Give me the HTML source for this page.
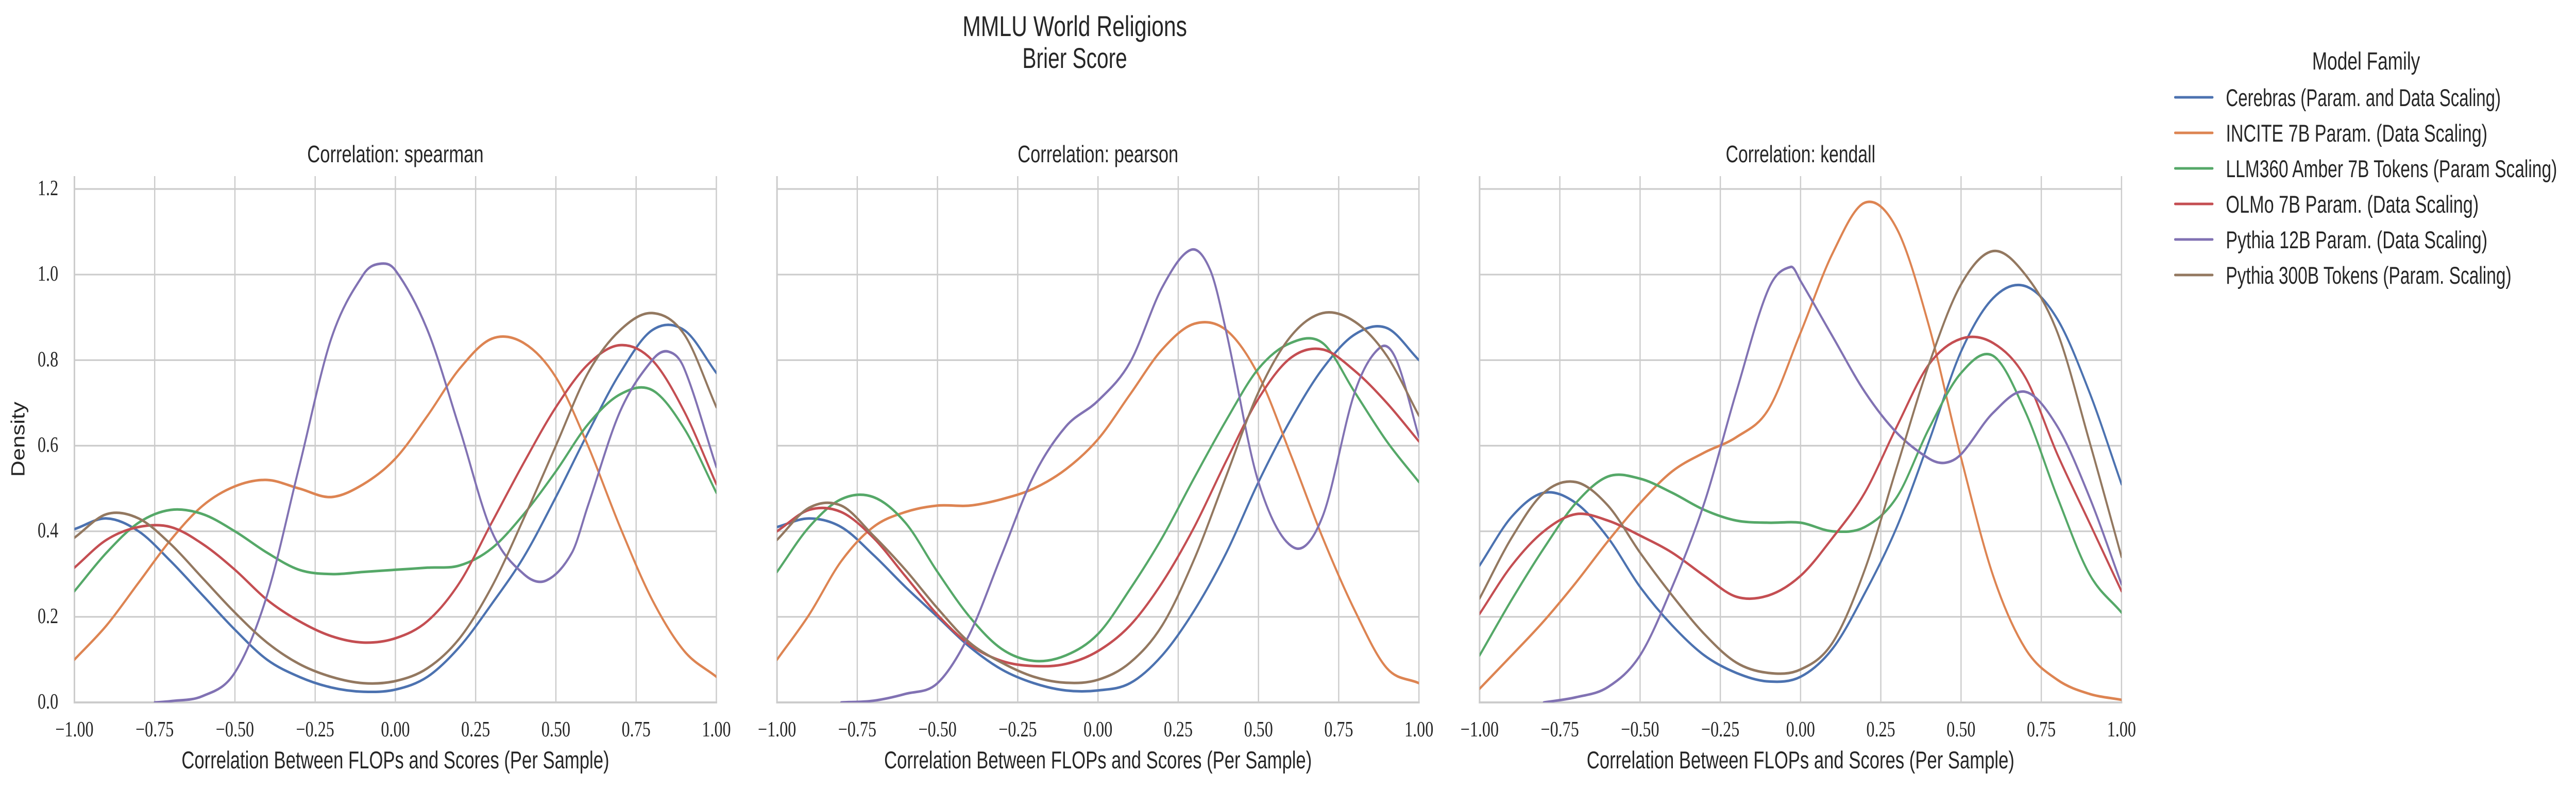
<!DOCTYPE html>
<html><head><meta charset="utf-8"><style>
html,body{margin:0;padding:0;background:#fff;width:100%;height:100%;overflow:hidden;}
svg{display:block;overflow:hidden;width:100vw;height:100vh;}
.t{font-family:"Liberation Sans Narrow","Liberation Sans",sans-serif;fill:#262626;}
.s{font-family:"Liberation Serif",serif;fill:#262626;}
</style></head><body>
<svg id="fig" xmlns="http://www.w3.org/2000/svg" viewBox="0 0 6541 1536" preserveAspectRatio="none">
<text class="t" x="2729" y="70" font-size="56" text-anchor="middle" textLength="570" lengthAdjust="spacingAndGlyphs">MMLU World Religions</text>
<text class="t" x="2729" y="132" font-size="56" text-anchor="middle" textLength="266" lengthAdjust="spacingAndGlyphs">Brier Score</text>
<text class="t" x="0" y="0" font-size="48" text-anchor="middle" textLength="146" lengthAdjust="spacingAndGlyphs" transform="translate(62,853) rotate(-90)">Density</text>
<g id="panels"></g>
<g id="legend">
<text class="t" x="6008" y="135" font-size="48" text-anchor="middle" textLength="274" lengthAdjust="spacingAndGlyphs">Model Family</text>
</g>
</svg>
<script>
// ---- data ----
const panelTitles = ["Correlation: spearman", "Correlation: pearson", "Correlation: kendall"];
const seriesNames = ["Cerebras (Param. and Data Scaling)", "INCITE 7B Param. (Data Scaling)", "LLM360 Amber 7B Tokens (Param Scaling)", "OLMo 7B Param. (Data Scaling)", "Pythia 12B Param. (Data Scaling)", "Pythia 300B Tokens (Param. Scaling)"];
const seriesColors = ["#4c72b0", "#dd8452", "#55a868", "#c44e52", "#8172b3", "#937860"];
const xTicks = [-1, -0.75, -0.5, -0.25, 0, 0.25, 0.5, 0.75, 1];
const xTickLabels = ["\u22121.00", "\u22120.75", "\u22120.50", "\u22120.25", "0.00", "0.25", "0.50", "0.75", "1.00"];
const yTicks = [0, 0.2, 0.4, 0.6, 0.8, 1.0, 1.2];
const yTickLabels = ["0.0", "0.2", "0.4", "0.6", "0.8", "1.0", "1.2"];

const gridX = [-1, -0.9, -0.8, -0.7, -0.6, -0.5, -0.4, -0.3, -0.2, -0.1, 0, 0.1, 0.2, 0.3, 0.4, 0.5, 0.6, 0.7, 0.8, 0.9, 1.0];

// spearman
const spBlue = [0.405, 0.43, 0.40, 0.33, 0.25, 0.17, 0.10, 0.06, 0.035, 0.025, 0.03, 0.06, 0.13, 0.23, 0.34, 0.48, 0.63, 0.77, 0.87, 0.87, 0.77];
const spOrange = [0.10, 0.18, 0.28, 0.38, 0.46, 0.505, 0.52, 0.50, 0.48, 0.51, 0.57, 0.67, 0.78, 0.85, 0.84, 0.76, 0.60, 0.41, 0.24, 0.12, 0.06];
const spGreen = [0.26, 0.35, 0.42, 0.45, 0.44, 0.40, 0.35, 0.31, 0.30, 0.305, 0.31, 0.315, 0.32, 0.36, 0.44, 0.54, 0.65, 0.72, 0.73, 0.64, 0.49];
const spRed = [0.315, 0.38, 0.41, 0.41, 0.37, 0.31, 0.24, 0.19, 0.155, 0.14, 0.15, 0.19, 0.28, 0.42, 0.56, 0.69, 0.79, 0.835, 0.80, 0.68, 0.51];
const spBrown = [0.385, 0.44, 0.43, 0.37, 0.29, 0.21, 0.14, 0.09, 0.06, 0.045, 0.05, 0.08, 0.15, 0.27, 0.43, 0.60, 0.77, 0.87, 0.91, 0.86, 0.69];
const spPurpleX = [-0.75, -0.7, -0.6, -0.5, -0.4, -0.3, -0.2, -0.1, -0.05, 0, 0.1, 0.2, 0.3, 0.4, 0.47, 0.55, 0.6, 0.7, 0.8, 0.85, 0.9, 1.0];
const spPurple = [0, 0.003, 0.015, 0.07, 0.25, 0.55, 0.85, 1.0, 1.025, 1.01, 0.87, 0.64, 0.40, 0.30, 0.285, 0.35, 0.46, 0.68, 0.80, 0.82, 0.78, 0.55];

// pearson
const peBlue = [0.41, 0.43, 0.41, 0.345, 0.27, 0.20, 0.13, 0.077, 0.045, 0.028, 0.028, 0.045, 0.11, 0.215, 0.35, 0.515, 0.66, 0.78, 0.86, 0.875, 0.80];
const peOrange = [0.10, 0.205, 0.33, 0.41, 0.445, 0.46, 0.46, 0.475, 0.50, 0.545, 0.615, 0.72, 0.825, 0.885, 0.87, 0.765, 0.58, 0.385, 0.215, 0.08, 0.045];
const peGreen = [0.305, 0.41, 0.475, 0.48, 0.42, 0.305, 0.20, 0.125, 0.097, 0.11, 0.16, 0.265, 0.385, 0.525, 0.66, 0.78, 0.84, 0.84, 0.725, 0.61, 0.515];
const peRed = [0.40, 0.45, 0.445, 0.385, 0.295, 0.205, 0.135, 0.097, 0.085, 0.09, 0.12, 0.18, 0.28, 0.41, 0.565, 0.71, 0.805, 0.825, 0.775, 0.70, 0.61];
const peBrown = [0.38, 0.455, 0.46, 0.39, 0.31, 0.22, 0.14, 0.093, 0.06, 0.046, 0.053, 0.093, 0.18, 0.335, 0.53, 0.725, 0.855, 0.91, 0.89, 0.81, 0.67];
const pePurpleX = [-0.8, -0.7, -0.6, -0.5, -0.4, -0.3, -0.2, -0.1, 0, 0.1, 0.2, 0.29, 0.35, 0.4, 0.5, 0.61, 0.7, 0.8, 0.88, 0.93, 1.0];
const pePurple = [0, 0.004, 0.02, 0.045, 0.16, 0.345, 0.53, 0.645, 0.705, 0.795, 0.97, 1.058, 1.01, 0.865, 0.515, 0.362, 0.435, 0.725, 0.83, 0.8, 0.62];

// kendall
const keBlue = [0.32, 0.434, 0.49, 0.466, 0.385, 0.27, 0.18, 0.11, 0.069, 0.049, 0.06, 0.126, 0.255, 0.41, 0.61, 0.82, 0.945, 0.973, 0.896, 0.725, 0.51];
const keOrange = [0.032, 0.11, 0.19, 0.28, 0.377, 0.466, 0.54, 0.584, 0.62, 0.685, 0.864, 1.05, 1.168, 1.107, 0.88, 0.572, 0.296, 0.126, 0.053, 0.02, 0.006];
const keGreen = [0.11, 0.24, 0.36, 0.466, 0.528, 0.523, 0.49, 0.45, 0.425, 0.42, 0.42, 0.40, 0.41, 0.48, 0.64, 0.77, 0.81, 0.68, 0.48, 0.30, 0.21];
const keRed = [0.207, 0.32, 0.40, 0.44, 0.425, 0.39, 0.35, 0.296, 0.247, 0.25, 0.296, 0.385, 0.49, 0.645, 0.79, 0.85, 0.84, 0.76, 0.58, 0.42, 0.26];
const keBrown = [0.243, 0.385, 0.49, 0.515, 0.46, 0.35, 0.25, 0.16, 0.093, 0.069, 0.077, 0.14, 0.31, 0.55, 0.79, 0.977, 1.055, 1.0, 0.865, 0.61, 0.34];
const kePurpleX = [-0.8, -0.7, -0.6, -0.5, -0.4, -0.3, -0.2, -0.1, -0.03, 0, 0.1, 0.2, 0.3, 0.4, 0.45, 0.5, 0.6, 0.7, 0.8, 0.9, 1.0];
const kePurple = [0, 0.012, 0.036, 0.11, 0.27, 0.466, 0.726, 0.966, 1.018, 0.985, 0.855, 0.726, 0.63, 0.57, 0.56, 0.58, 0.677, 0.726, 0.645, 0.48, 0.276];

const panelSeries = [
  [[gridX, spBlue], [gridX, spOrange], [gridX, spGreen], [gridX, spRed], [spPurpleX, spPurple], [gridX, spBrown]],
  [[gridX, peBlue], [gridX, peOrange], [gridX, peGreen], [gridX, peRed], [pePurpleX, pePurple], [gridX, peBrown]],
  [[gridX, keBlue], [gridX, keOrange], [gridX, keGreen], [gridX, keRed], [kePurpleX, kePurple], [gridX, keBrown]]
];

// ---- layout ----
const NS = "http://www.w3.org/2000/svg";
const panelLefts = [189, 1973, 3757];
const panelW = 1630;
const yBottom = 1364, yTop = 342;
const pxPerUnit = (1364 - 367) / 1.2;
const titleWidths = [448, 408, 380];
const legendWidths = [698, 664, 841, 642, 664, 725];
function mk(tag, attrs, parent) {
  const e = document.createElementNS(NS, tag);
  for (const k in attrs) e.setAttribute(k, attrs[k]);
  parent.appendChild(e);
  return e;
}
function smoothPath(pts) {
  const n = pts.length;
  const m = pts.map((p, i) => {
    const a = pts[Math.max(0, i - 1)], b = pts[Math.min(n - 1, i + 1)];
    return (b[1] - a[1]) / (b[0] - a[0]);
  });
  let d = "M" + pts[0][0].toFixed(1) + "," + pts[0][1].toFixed(1);
  for (let i = 0; i < n - 1; i++) {
    const p1 = pts[i], p2 = pts[i + 1], h = p2[0] - p1[0];
    const c1 = [p1[0] + h / 3, p1[1] + m[i] * h / 3];
    const c2 = [p2[0] - h / 3, p2[1] - m[i + 1] * h / 3];
    d += "C" + c1[0].toFixed(1) + "," + c1[1].toFixed(1) + " " + c2[0].toFixed(1) + "," + c2[1].toFixed(1) + " " + p2[0].toFixed(1) + "," + p2[1].toFixed(1);
  }
  return d;
}
const root = document.getElementById("panels");
panelTitles.forEach((title, pi) => {
  const L = panelLefts[pi], R = L + panelW;
  const xs = v => L + (v + 1) / 2 * panelW;
  const ys = v => yBottom - v * pxPerUnit;
  const g = mk("g", {}, root);
  
  
  const cp = mk("clipPath", { id: "clip" + pi }, g);
  mk("rect", { x: L, y: yTop, width: panelW, height: yBottom - yTop }, cp);
  yTicks.forEach((t, i) => {
    const gl = mk("line", { x1: L, x2: R, y1: ys(t), y2: ys(t), stroke: "#cccccc", "stroke-width": 3.2 }, g);
    
    
    if (pi === 0) {
      const tl = mk("text", { x: 148, y: ys(t) + 12, "font-size": 42, "text-anchor": "end", class: "s" }, g);
      tl.textContent = yTickLabels[i];
      
      
    }
  });
  xTicks.forEach((t, i) => {
    const gl = mk("line", { x1: xs(t), x2: xs(t), y1: yTop, y2: yBottom, stroke: "#cccccc", "stroke-width": 3.2 }, g);
    
    
    const tl = mk("text", { x: xs(t), y: 1430, "font-size": 42, "text-anchor": "middle", class: "s" }, g);
    tl.textContent = xTickLabels[i];
    
    
  });
  const sp1 = mk("line", { x1: L, x2: L, y1: yTop, y2: yBottom + 2, stroke: "#cccccc", "stroke-width": 4 }, g);
  
  
  const sp2 = mk("line", { x1: L - 2, x2: R + 2, y1: yBottom, y2: yBottom, stroke: "#cccccc", "stroke-width": 4 }, g);
  
  
  const lines = mk("g", { "clip-path": "url(#clip" + pi + ")" }, g);
  panelSeries[pi].forEach((s, si) => {
    const pts = s[0].map((x, k) => [xs(x), ys(s[1][k])]);
    const p = mk("path", { d: smoothPath(pts), fill: "none", stroke: seriesColors[si], "stroke-width": 5, "stroke-linejoin": "round", "stroke-linecap": "round" }, lines);
    
    
  });
  const tt = mk("text", { x: (L + R) / 2, y: 315, "font-size": 46, "text-anchor": "middle", class: "t", textLength: titleWidths[pi], lengthAdjust: "spacingAndGlyphs" }, g);
  tt.textContent = title;
  
  
  const xl = mk("text", { x: (L + R) / 2, y: 1492, "font-size": 47, "text-anchor": "middle", class: "t", textLength: 1086, lengthAdjust: "spacingAndGlyphs" }, g);
  xl.textContent = "Correlation Between FLOPs and Scores (Per Sample)";
  
  
});
const leg = document.getElementById("legend");
seriesNames.forEach((n, i) => {
  const y = 189 + i * 69;
  const ln = mk("line", { x1: 5523, x2: 5618, y1: y, y2: y, stroke: seriesColors[i], "stroke-width": 5, "stroke-linecap": "round" }, leg);
  
  
  const tx = mk("text", { x: 5652, y: y + 17, "font-size": 47, class: "t", textLength: legendWidths[i], lengthAdjust: "spacingAndGlyphs" }, leg);
  tx.textContent = n;
  
  
});
</script>
</body></html>
